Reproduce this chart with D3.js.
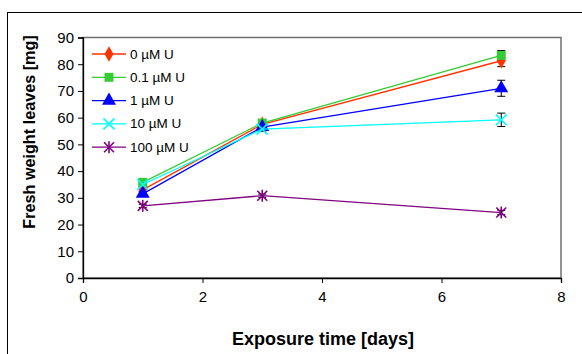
<!DOCTYPE html>
<html>
<head>
<meta charset="utf-8">
<script src="https://cdn.jsdelivr.net/npm/d3@7"></script>
<style>
  body { margin: 0; background: #fff; }
  svg { display: block; font-family: Arial, "Liberation Sans", sans-serif; }
</style>
</head>
<body>
<div id="chart"></div>
<script>
// data
const days = [1, 3, 7];
const seriesNames = ["0 \u00b5M U", "0.1 \u00b5M U", "1 \u00b5M U", "10 \u00b5M U", "100 \u00b5M U"];
const u0 = [33, 57.5, 81.3];
const u01 = [35.8, 58, 83.3];
const u1 = [31.5, 56.5, 71];
const u10 = [35, 55.7, 59.2];
const u100 = [27, 30.8, 24.5];
const err0 = [0.8, 0.8, 2.2];
const err01 = [0.8, 0.8, 1.8];
const err1 = [0.8, 0.8, 3];
const err10 = [0.8, 0.8, 2.5];
const err100 = [0.6, 0.6, 0.8];
const xTicks = [0, 2, 4, 6, 8];
const yTicks = [0, 10, 20, 30, 40, 50, 60, 70, 80, 90];

const colors = ["#ff3300", "#33cc33", "#0000ff", "#00ffff", "#800080"];
const symbols = [d3.symbolDiamond, d3.symbolSquare, d3.symbolTriangle, d3.symbolX, "star"];
const values = [u0, u01, u1, u10, u100];
const errors = [err0, err01, err1, err10, err100];

const W = 582, H = 354;
const svg = d3.select("#chart").append("svg")
    .attr("width", W)
    .attr("height", H);

// outer frame (runs off the right and bottom edge)
svg.append("rect")
    .attr("x", 7.5).attr("y", 12.5)
    .attr("width", 600).attr("height", 400)
    .attr("fill", "none").attr("stroke", "#000").attr("stroke-width", 1);

const x = d3.scaleLinear().domain([0, 8]).range([83, 561]);
const y = d3.scaleLinear().domain([0, 90]).range([278, 37.5]);

// plot area border
svg.append("rect")
    .attr("x", x(0)).attr("y", y(90))
    .attr("width", x(8) - x(0)).attr("height", y(0) - y(90))
    .attr("fill", "none").attr("stroke", "#707070").attr("stroke-width", 1.5);

const xAxis = svg.append("g")
    .attr("transform", `translate(0,${y(0)})`)
    .call(d3.axisBottom(x).tickValues(xTicks).tickSize(5).tickPadding(8));
const yAxis = svg.append("g")
    .attr("transform", `translate(${x(0)},0)`)
    .call(d3.axisLeft(y).tickValues(yTicks).tickSize(5).tickPadding(4));

[xAxis, yAxis].forEach(a => {
    a.select(".domain").attr("stroke", "#000").attr("stroke-width", 1.3);
    a.selectAll(".tick line").attr("stroke", "#000");
    a.selectAll("text").attr("font-size", 15).attr("fill", "#000")
        .attr("font-family", "Arial, 'Liberation Sans', sans-serif");
});

svg.append("text")
    .attr("x", 323).attr("y", 345)
    .attr("text-anchor", "middle")
    .attr("font-size", 18).attr("font-weight", "bold")
    .text("Exposure time [days]");

svg.append("text")
    .attr("transform", "translate(35,132) rotate(-90)")
    .attr("text-anchor", "middle")
    .attr("font-size", 16.2).attr("font-weight", "bold")
    .text("Fresh weight leaves [mg]");

function drawMarker(g, i, cx, cy) {
    if (symbols[i] === "star") {
        const r = 5;
        const s = g.append("g").attr("transform", `translate(${cx},${cy})`)
            .attr("stroke", colors[i]).attr("stroke-width", 1.6);
        s.append("line").attr("x1", -r).attr("y1", -r).attr("x2", r).attr("y2", r);
        s.append("line").attr("x1", -r).attr("y1", r).attr("x2", r).attr("y2", -r);
        s.append("line").attr("x1", 0).attr("y1", -r - 1).attr("x2", 0).attr("y2", r + 1);
        return;
    }
    if (symbols[i] === d3.symbolX) {
        g.append("path")
            .attr("transform", `translate(${cx},${cy})`)
            .attr("d", d3.symbol().type(d3.symbolX).size(80)())
            .attr("fill", "none").attr("stroke", colors[i]).attr("stroke-width", 1.6);
        return;
    }
    const size = symbols[i] === d3.symbolSquare ? 80 : symbols[i] === d3.symbolTriangle ? 85 : 70;
    g.append("path")
        .attr("transform", `translate(${cx},${cy})`)
        .attr("d", d3.symbol().type(symbols[i]).size(size)())
        .attr("fill", colors[i]);
}

const line = d3.line().x(d => x(d[0])).y(d => y(d[1]));

// error bars
values.forEach((vals, i) => {
    const g = svg.append("g");
    vals.forEach((v, j) => {
        const e = errors[i][j];
        const cx = x(days[j]);
        g.append("line").attr("x1", cx).attr("x2", cx)
            .attr("y1", y(v - e)).attr("y2", y(v + e)).attr("stroke", "#000");
        [v - e, v + e].forEach(t => {
            g.append("line").attr("x1", cx - 4).attr("x2", cx + 4)
                .attr("y1", y(t)).attr("y2", y(t)).attr("stroke", "#000");
        });
    });
});

// series lines and markers
values.forEach((vals, i) => {
    const pts = days.map((d, j) => [d, vals[j]]);
    svg.append("path")
        .datum(pts)
        .attr("d", line)
        .attr("fill", "none")
        .attr("stroke", colors[i])
        .attr("stroke-width", 1.3);
    const g = svg.append("g");
    pts.forEach(p => drawMarker(g, i, x(p[0]), y(p[1])));
});

// legend
const legend = svg.append("g");
seriesNames.forEach((name, i) => {
    const ly = 54 + i * 23.3;
    legend.append("line")
        .attr("x1", 92).attr("x2", 126).attr("y1", ly).attr("y2", ly)
        .attr("stroke", colors[i]).attr("stroke-width", 1.3);
    drawMarker(legend, i, 109, ly);
    legend.append("text")
        .attr("x", 130).attr("y", ly + 4.5)
        .attr("font-size", 13.5)
        .text(name);
});
</script>
</body>
</html>
